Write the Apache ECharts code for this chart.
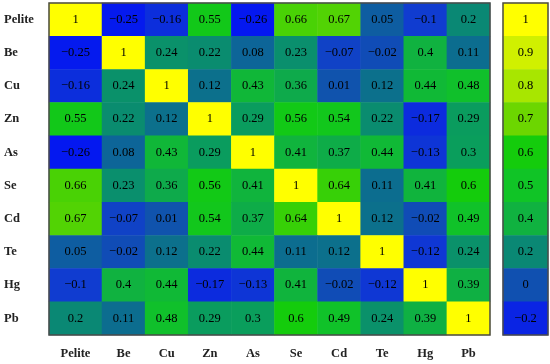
<!DOCTYPE html>
<html>
<head>
<meta charset="utf-8">
<script src="https://cdn.jsdelivr.net/npm/echarts@6/dist/echarts.min.js"></script>
<style>
  html, body { margin: 0; padding: 0; background: #fff; }
  #main { width: 550px; height: 364px; }
</style>
</head>
<body>
<div id="main"></div>
<script>
var elements = ['Pelite', 'Be', 'Cu', 'Zn', 'As', 'Se', 'Cd', 'Te', 'Hg', 'Pb'];

var rowPelite = [1, -0.25, -0.16, 0.55, -0.26, 0.66, 0.67, 0.05, -0.1, 0.2];
var rowBe     = [-0.25, 1, 0.24, 0.22, 0.08, 0.23, -0.07, -0.02, 0.4, 0.11];
var rowCu     = [-0.16, 0.24, 1, 0.12, 0.43, 0.36, 0.01, 0.12, 0.44, 0.48];
var rowZn     = [0.55, 0.22, 0.12, 1, 0.29, 0.56, 0.54, 0.22, -0.17, 0.29];
var rowAs     = [-0.26, 0.08, 0.43, 0.29, 1, 0.41, 0.37, 0.44, -0.13, 0.3];
var rowSe     = [0.66, 0.23, 0.36, 0.56, 0.41, 1, 0.64, 0.11, 0.41, 0.6];
var rowCd     = [0.67, -0.07, 0.01, 0.54, 0.37, 0.64, 1, 0.12, -0.02, 0.49];
var rowTe     = [0.05, -0.02, 0.12, 0.22, 0.44, 0.11, 0.12, 1, -0.12, 0.24];
var rowHg     = [-0.1, 0.4, 0.44, -0.17, -0.13, 0.41, -0.02, -0.12, 1, 0.39];
var rowPb     = [0.2, 0.11, 0.48, 0.29, 0.3, 0.6, 0.49, 0.24, 0.39, 1];

var legendTicks = [1, 0.9, 0.8, 0.7, 0.6, 0.5, 0.4, 0.2, 0, -0.2];

var rows = [rowPelite, rowBe, rowCu, rowZn, rowAs, rowSe, rowCd, rowTe, rowHg, rowPb];

// first column (Pelite) is drawn in its own, slightly wider grid
var firstCol = [];
var restCols = [];
rows.forEach(function (row, r) {
  row.forEach(function (v, c) {
    if (c === 0) firstCol.push([0, r, v]);
    else restCols.push([c - 1, r, v]);
  });
});
var legendData = legendTicks.map(function (v, i) { return [0, i, v]; });

function fmt(v) {
  return String(v).replace('-', '\u2212');
}

var cellLabel = {
  show: true,
  color: '#000',
  fontFamily: 'Liberation Serif',
  fontSize: 12.5,
  formatter: function (p) { return fmt(p.value[2]); }
};
var axisFont = {
  color: '#222',
  fontFamily: 'Liberation Serif',
  fontWeight: 'bold',
  fontSize: 12.5
};

var chart = echarts.init(document.getElementById('main'));
chart.setOption({
  animation: false,
  grid: [
    { left: 49, top: 3, width: 53, height: 332 },
    { left: 102, top: 3, width: 388, height: 332 },
    { left: 503, top: 3, width: 45, height: 332, show: true, z: 5,
      backgroundColor: 'transparent', borderColor: '#4a4a4a', borderWidth: 1.5 },
    // frame around the whole matrix
    { left: 49, top: 3, width: 441, height: 332, show: true, z: 5,
      backgroundColor: 'transparent', borderColor: '#4a4a4a', borderWidth: 1.5 }
  ],
  xAxis: [
    { type: 'category', gridIndex: 0, data: elements.slice(0, 1),
      axisLine: { show: false }, axisTick: { show: false }, splitArea: { show: false },
      axisLabel: Object.assign({ margin: 12 }, axisFont) },
    { type: 'category', gridIndex: 1, data: elements.slice(1),
      axisLine: { show: false }, axisTick: { show: false }, splitArea: { show: false },
      axisLabel: Object.assign({ margin: 12 }, axisFont) },
    { type: 'category', gridIndex: 2, data: [''], show: false },
    { type: 'category', gridIndex: 3, data: [''], show: false }
  ],
  yAxis: [
    { type: 'category', gridIndex: 0, data: elements, inverse: true,
      axisLine: { show: false }, axisTick: { show: false }, splitArea: { show: false },
      axisLabel: Object.assign({ margin: 45, align: 'left' }, axisFont) },
    { type: 'category', gridIndex: 1, data: elements, inverse: true, show: false },
    { type: 'category', gridIndex: 2, data: legendTicks.map(String), inverse: true, show: false },
    { type: 'category', gridIndex: 3, data: [''], show: false }
  ],
  visualMap: {
    type: 'continuous',
    show: false,
    min: -0.3,
    max: 1,
    seriesIndex: [0, 1, 2],
    inRange: {
      color: ['#0010f8', '#0a24e4', '#103cd0', '#1050b0', '#0c6a92', '#0a8874',
              '#0a9e5c', '#10b240', '#10c426', '#14cc0c', '#6cd600', '#a8e600',
              '#d0f000', '#ffff00']
    }
  },
  series: [
    { type: 'heatmap', xAxisIndex: 0, yAxisIndex: 0, data: firstCol, label: cellLabel },
    { type: 'heatmap', xAxisIndex: 1, yAxisIndex: 1, data: restCols, label: cellLabel },
    { type: 'heatmap', xAxisIndex: 2, yAxisIndex: 2, data: legendData, label: cellLabel }
  ]
});
</script>
</body>
</html>
